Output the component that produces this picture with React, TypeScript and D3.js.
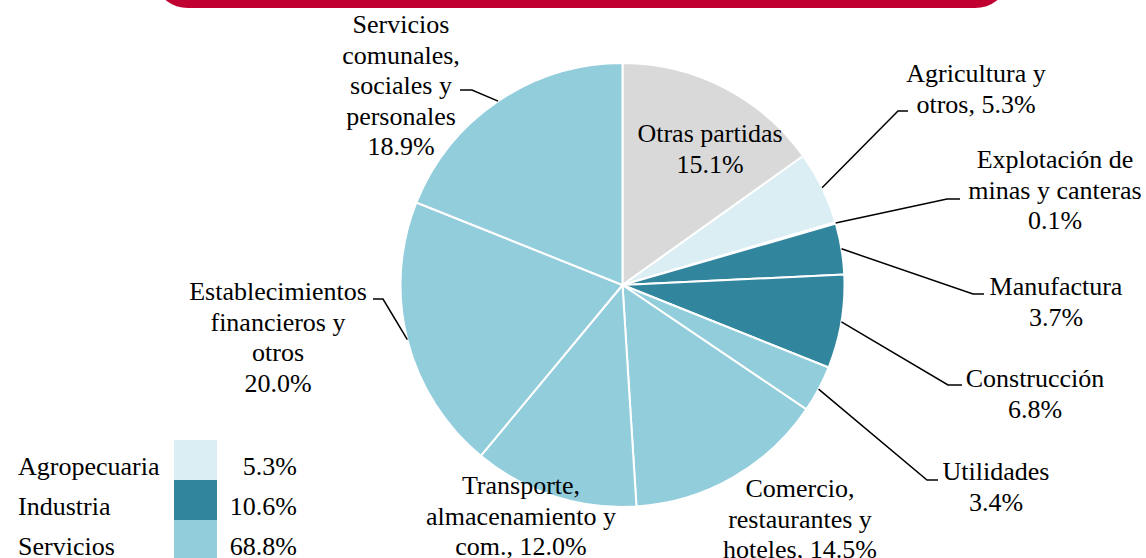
import React from 'react';
import * as d3 from 'd3';

// sector shares of the total, clockwise from 12 o'clock
const sectors = [
  'Otras partidas',
  'Agricultura y otros',
  'Explotación de minas y canteras',
  'Manufactura',
  'Construcción',
  'Utilidades',
  'Comercio, restaurantes y hoteles',
  'Transporte, almacenamiento y com.',
  'Establecimientos financieros y otros',
  'Servicios comunales, sociales y personales',
];
const shares = [15.1, 5.3, 0.1, 3.7, 6.8, 3.4, 14.5, 12.0, 20.0, 18.9];
const groups = [
  'Otras', 'Agropecuaria', 'Industria', 'Industria', 'Industria',
  'Servicios', 'Servicios', 'Servicios', 'Servicios', 'Servicios',
];
const labelLines = [
  ['Otras partidas', '{v}'],
  ['Agricultura y', 'otros, {v}'],
  ['Explotación de', 'minas y canteras', '{v}'],
  ['Manufactura', '{v}'],
  ['Construcción', '{v}'],
  ['Utilidades', '{v}'],
  ['Comercio,', 'restaurantes y', 'hoteles, {v}'],
  ['Transporte,', 'almacenamiento y', 'com., {v}'],
  ['Establecimientos', 'financieros y', 'otros', '{v}'],
  ['Servicios', 'comunales,', 'sociales y', 'personales', '{v}'],
];
const legendGroups = ['Agropecuaria', 'Industria', 'Servicios'];

// label placement (center x, first baseline, leader elbow and end)
const labelPos = [
  { x: 710, y: 142 },
  { x: 976, y: 82, elbow: [898, 111], end: [908, 111] },
  { x: 1055, y: 168, elbow: [947, 199], end: [960, 199] },
  { x: 1056, y: 295, elbow: [973, 294], end: [984, 294] },
  { x: 1035, y: 387, elbow: [948, 385], end: [962, 385] },
  { x: 996, y: 480, elbow: [927, 480], end: [938, 480] },
  { x: 800, y: 497 },
  { x: 521, y: 494 },
  { x: 278, y: 300, elbow: [383, 299], end: [373, 299] },
  { x: 401, y: 33, elbow: [472, 90], end: [460, 90] },
];

const W = 1146;
const H = 558;
const cx = 622.5;
const cy = 285;
const R = 222;
const lineH = 30.5;
const font = '"Liberation Serif", "Times New Roman", serif';

const color = d3.scaleOrdinal<string, string>()
  .domain(['Otras', 'Agropecuaria', 'Industria', 'Servicios'])
  .range(['#d9d9d9', '#daeef3', '#31859c', '#92cddc']);

const fmt = (v: number) => `${v.toFixed(1)}%`;

export default function App() {
  const pie = d3.pie<number>().sort(null).value(d => d);
  const arcs = pie(shares);
  const arc = d3.arc<d3.PieArcDatum<number>>().innerRadius(0).outerRadius(R);

  const legendTotals = legendGroups.map(g =>
    d3.sum(shares.filter((_, i) => groups[i] === g)));

  return (
    <div style={{ position: 'fixed', left: 0, top: 0 }}>
      <svg width={W} height={H} style={{ display: 'block', background: '#fff' }}>
        {/* red title band, cut by the top edge */}
        <rect x={158} y={-40} width={847} height={48} rx={30} fill="#c00030" />

        <g transform={`translate(${cx},${cy})`}>
          {arcs.map((a, i) => (
            <path key={sectors[i]} d={arc(a) || ''} fill={color(groups[i])}
              stroke="#fff" strokeWidth={2} strokeLinejoin="round" />
          ))}
        </g>

        {/* leader lines */}
        {arcs.map((a, i) => {
          const p = labelPos[i];
          if (!p.elbow) return null;
          const mid = (a.startAngle + a.endAngle) / 2;
          const sx = cx + R * Math.sin(mid);
          const sy = cy - R * Math.cos(mid);
          const pts = `${sx},${sy} ${p.elbow[0]},${p.elbow[1]} ${p.end[0]},${p.end[1]}`;
          return <polyline key={`l${i}`} points={pts} fill="none" stroke="#000" strokeWidth={1.5} />;
        })}

        {/* labels */}
        {labelLines.map((lines, i) => (
          <text key={`t${i}`} x={labelPos[i].x} y={labelPos[i].y} textAnchor="middle"
            fontFamily={font} fontSize={26} fill="#000">
            {lines.map((s, j) => (
              <tspan key={j} x={labelPos[i].x} y={labelPos[i].y + j * lineH}>
                {s.replace('{v}', fmt(shares[i]))}
              </tspan>
            ))}
          </text>
        ))}

        {/* legend */}
        {legendGroups.map((g, i) => (
          <g key={g} transform={`translate(0,${440 + i * 40})`}>
            <rect x={174} y={0} width={43} height={40} fill={color(g)} />
            <text x={18} y={35} fontFamily={font} fontSize={26} fill="#000">{g}</text>
            <text x={297} y={35} textAnchor="end" fontFamily={font} fontSize={26} fill="#000">
              {fmt(legendTotals[i])}
            </text>
          </g>
        ))}
      </svg>
    </div>
  );
}
